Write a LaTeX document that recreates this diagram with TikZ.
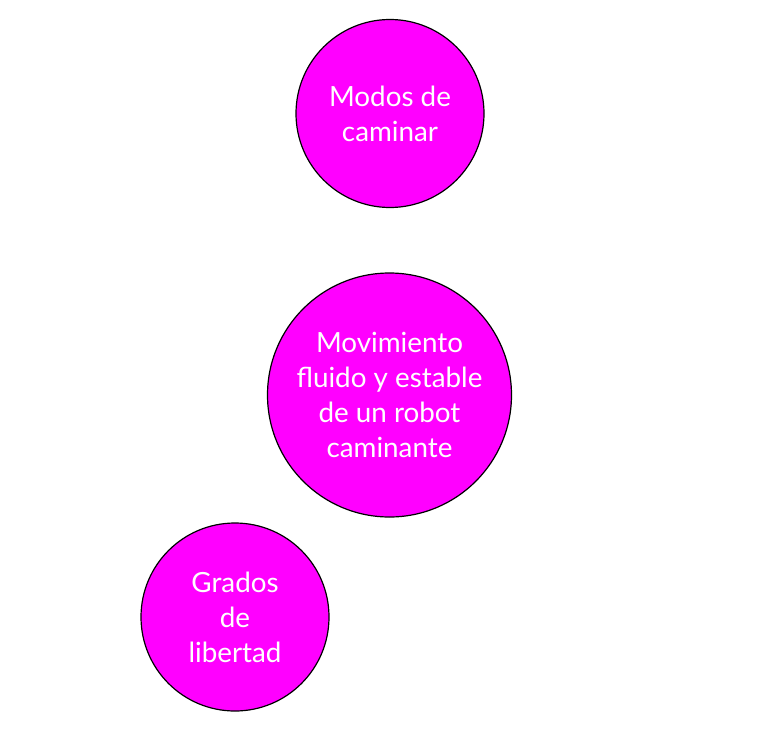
\documentclass[tikz,border=0pt]{standalone}
\usepackage{fontspec}
\setmainfont{Lato}
\definecolor{mag}{RGB}{255,0,255}
\tikzset{bub/.style={circle,draw=black,line width=1.2pt,fill=mag,text=white,align=center,inner sep=0pt,font=\fontsize{27.8}{35}\selectfont}}
\begin{document}
\begin{tikzpicture}[x=1pt,y=-1pt]
\useasboundingbox (0,0) rectangle (760,731);
\node[bub,minimum size=188pt] (a) at (390,113.5) {Modos de\\caminar};
\node[bub,minimum size=244pt] (b) at (389.5,395) {Movimiento\\fluido y estable\\de un robot\\caminante};
\node[bub,minimum size=188pt] (c) at (235,617) {Grados\\de\\libertad};
\end{tikzpicture}
\end{document}
